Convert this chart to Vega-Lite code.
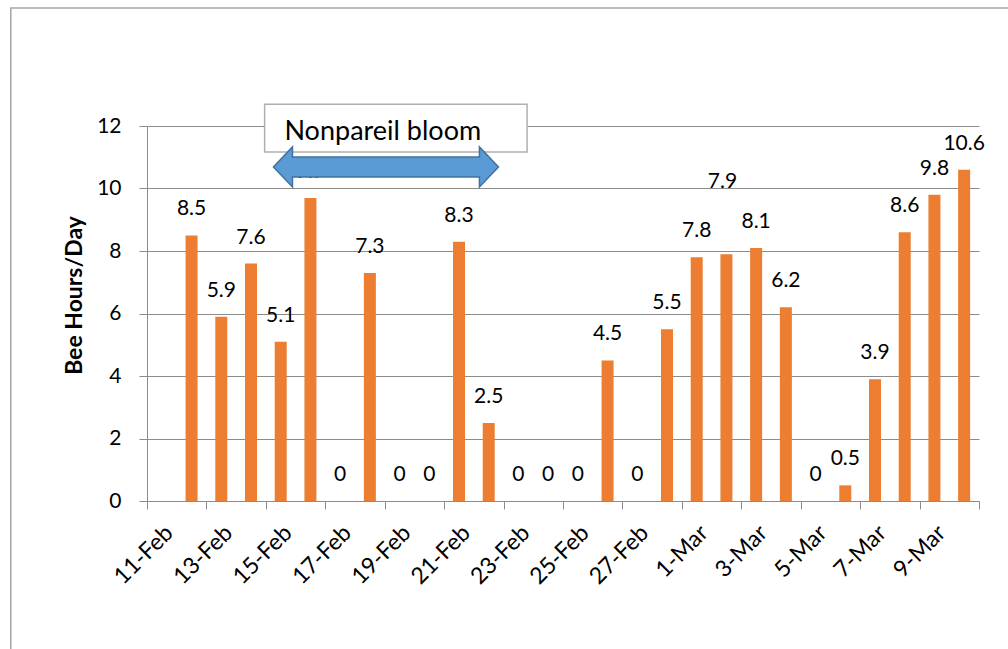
{
  "$schema": "https://vega.github.io/schema/vega-lite/v6.json",
  "width": 832,
  "height": 375,
  "autosize": {"type": "none"},
  "padding": {"left": 147, "top": 126, "right": 29, "bottom": 148},
  "background": "white",
  "config": {
    "view": {"stroke": null},
    "font": "Lato",
    "text": {"font": "Lato", "fontSize": 21, "color": "black"},
    "axis": {"labelFont": "Lato", "titleFont": "Lato", "labelColor": "black", "titleColor": "black"}
  },
  "datasets": {
    "bees": [
      {"date": "2013-02-12", "hours": 8.5},
      {"date": "2013-02-13", "hours": 5.9},
      {"date": "2013-02-14", "hours": 7.6},
      {"date": "2013-02-15", "hours": 5.1},
      {"date": "2013-02-16", "hours": 9.7},
      {"date": "2013-02-17", "hours": 0},
      {"date": "2013-02-18", "hours": 7.3},
      {"date": "2013-02-19", "hours": 0},
      {"date": "2013-02-20", "hours": 0},
      {"date": "2013-02-21", "hours": 8.3},
      {"date": "2013-02-22", "hours": 2.5},
      {"date": "2013-02-23", "hours": 0},
      {"date": "2013-02-24", "hours": 0},
      {"date": "2013-02-25", "hours": 0},
      {"date": "2013-02-26", "hours": 4.5},
      {"date": "2013-02-27", "hours": 0},
      {"date": "2013-02-28", "hours": 5.5},
      {"date": "2013-03-01", "hours": 7.8},
      {"date": "2013-03-02", "hours": 7.9},
      {"date": "2013-03-03", "hours": 8.1},
      {"date": "2013-03-04", "hours": 6.2},
      {"date": "2013-03-05", "hours": 0},
      {"date": "2013-03-06", "hours": 0.5},
      {"date": "2013-03-07", "hours": 3.9},
      {"date": "2013-03-08", "hours": 8.6},
      {"date": "2013-03-09", "hours": 9.8},
      {"date": "2013-03-10", "hours": 10.6}
    ]
  },
  "layer": [
    {
      "data": {"values": [{}]},
      "mark": {"type": "rect", "fill": null, "stroke": "#a6a6a6", "strokeWidth": 1.5, "clip": false},
      "encoding": {
        "x": {"datum": {"year": 2013, "month": "Feb", "date": 6, "hours": 10, "utc": true}, "type": "temporal"},
        "x2": {"datum": {"year": 2013, "month": "Mar", "date": 14, "utc": true}},
        "y": {"datum": 15.78, "type": "quantitative"},
        "y2": {"datum": -6}
      }
    },
    {
      "data": {"name": "bees"},
      "mark": {"type": "bar", "color": "#ED7D31", "width": 12},
      "encoding": {
        "x": {
          "field": "date", "type": "temporal", "timeUnit": "utcyearmonthdate", "bandPosition": 0.5,
          "scale": {"type": "utc", "nice": false, "domain": [
            {"year": 2013, "month": "Feb", "date": 11, "utc": true},
            {"year": 2013, "month": "Mar", "date": 11, "utc": true}
          ]},
          "axis": {
            "title": null,
            "grid": false,
            "values": [
              {"year": 2013, "month": "Feb", "date": 11, "utc": true},
              {"year": 2013, "month": "Feb", "date": 13, "utc": true},
              {"year": 2013, "month": "Feb", "date": 15, "utc": true},
              {"year": 2013, "month": "Feb", "date": 17, "utc": true},
              {"year": 2013, "month": "Feb", "date": 19, "utc": true},
              {"year": 2013, "month": "Feb", "date": 21, "utc": true},
              {"year": 2013, "month": "Feb", "date": 23, "utc": true},
              {"year": 2013, "month": "Feb", "date": 25, "utc": true},
              {"year": 2013, "month": "Feb", "date": 27, "utc": true},
              {"year": 2013, "month": "Mar", "date": 1, "utc": true},
              {"year": 2013, "month": "Mar", "date": 3, "utc": true},
              {"year": 2013, "month": "Mar", "date": 5, "utc": true},
              {"year": 2013, "month": "Mar", "date": 7, "utc": true},
              {"year": 2013, "month": "Mar", "date": 9, "utc": true},
              {"year": 2013, "month": "Mar", "date": 11, "utc": true}
            ],
            "labelExpr": "utcdate(datum.value) == 11 && utcmonth(datum.value) == 2 ? '' : utcFormat(datum.value, '%-d-%b')",
            "labelAngle": -45,
            "labelAlign": "right",
            "labelBaseline": "middle",
            "labelFontSize": 23,
            "labelPadding": 20,
            "labelOffset": 22,
            "labelOverlap": false,
            "labelBound": false,
            "labelFlush": false,
            "tickSize": 8,
            "tickColor": "#8c8c8c",
            "domainColor": "#8c8c8c"
          }
        },
        "y": {
          "field": "hours", "type": "quantitative",
          "scale": {"domain": [0, 12], "nice": false},
          "axis": {
            "title": "Bee Hours/Day",
            "titleFontSize": 23,
            "titleFontWeight": "bold",
            "titlePadding": 10,
            "titleY": 169,
            "values": [0, 2, 4, 6, 8, 10, 12],
            "labelFontSize": 21,
            "labelPadding": 18,
            "tickSize": 8,
            "tickColor": "#8c8c8c",
            "domainColor": "#8c8c8c",
            "grid": true,
            "gridColor": "#8c8c8c",
            "gridOpacity": 1
          }
        }
      }
    },
    {
      "data": {"name": "bees"},
      "transform": [{"filter": {"not": {"field": "date", "timeUnit": "utcyearmonthdate", "equal": {"year": 2013, "month": "Mar", "date": 2, "utc": true}}}}],
      "mark": {"type": "text", "baseline": "middle", "align": "center", "dy": -26, "fontSize": 21},
      "encoding": {
        "x": {"field": "date", "type": "temporal", "timeUnit": "utcyearmonthdate", "bandPosition": 0.5},
        "y": {"field": "hours", "type": "quantitative"},
        "text": {"field": "hours", "type": "quantitative"}
      }
    },
    {
      "data": {"name": "bees"},
      "transform": [{"filter": {"field": "date", "timeUnit": "utcyearmonthdate", "equal": {"year": 2013, "month": "Mar", "date": 2, "utc": true}}}],
      "mark": {"type": "text", "baseline": "middle", "align": "center", "dy": -72, "dx": -4, "fontSize": 21},
      "encoding": {
        "x": {"field": "date", "type": "temporal", "timeUnit": "utcyearmonthdate", "bandPosition": 0.5},
        "y": {"field": "hours", "type": "quantitative"},
        "text": {"field": "hours", "type": "quantitative"}
      }
    },
    {
      "data": {"values": [{}]},
      "mark": {"type": "rect", "fill": "white", "stroke": "#b0b0b0", "strokeWidth": 1.5, "clip": false},
      "encoding": {
        "x": {"datum": {"year": 2013, "month": "Feb", "date": 14, "hours": 23, "utc": true}, "type": "temporal"},
        "x2": {"datum": {"year": 2013, "month": "Feb", "date": 23, "hours": 19, "utc": true}},
        "y": {"datum": 12.7, "type": "quantitative"},
        "y2": {"datum": 11.17}
      }
    },
    {
      "data": {"values": [{"label": "Nonpareil bloom"}]},
      "mark": {"type": "text", "align": "left", "baseline": "middle", "fontSize": 27, "clip": false},
      "encoding": {
        "x": {"datum": {"year": 2013, "month": "Feb", "date": 15, "hours": 15, "utc": true}, "type": "temporal"},
        "y": {"datum": 11.81, "type": "quantitative"},
        "text": {"field": "label"}
      }
    },
    {
      "data": {"values": [{}]},
      "mark": {
        "type": "point",
        "shape": "M-1,0 L-0.831,-0.178 L-0.831,-0.089 L0.831,-0.089 L0.831,-0.178 L1,0 L0.831,0.178 L0.831,0.089 L-0.831,0.089 L-0.831,0.178 Z",
        "size": 50625,
        "filled": true,
        "fill": "#5B9BD5",
        "stroke": "#41719C",
        "strokeWidth": 1.5,
        "opacity": 1,
        "clip": false
      },
      "encoding": {
        "x": {"datum": {"year": 2013, "month": "Feb", "date": 19, "hours": 1, "utc": true}, "type": "temporal"},
        "y": {"datum": 10.69, "type": "quantitative"}
      }
    }
  ]
}
